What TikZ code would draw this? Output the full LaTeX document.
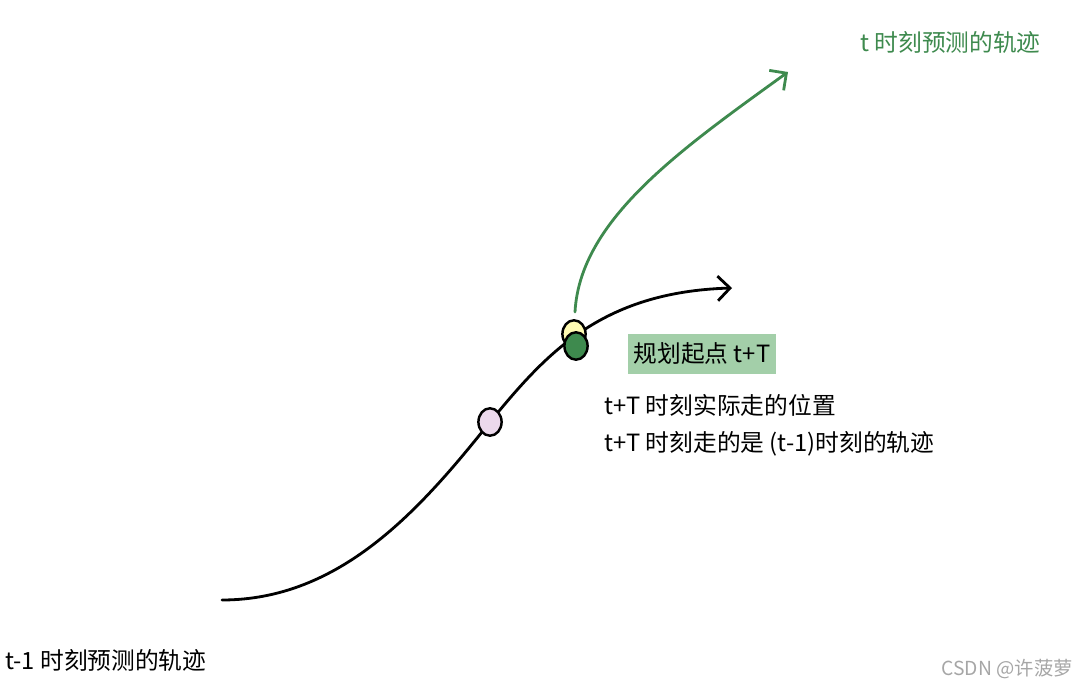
\documentclass[tikz,border=0pt]{standalone}
\usepackage{fontspec}
\setmainfont{Noto Sans CJK SC}
\usetikzlibrary{arrows.meta}
\definecolor{gr}{HTML}{3E8A4E}
\definecolor{hl}{HTML}{A3CFA9}
\tikzset{curve/.style={line width=1.6pt,-{Straight Barb[length=7pt,width=14pt]},line cap=round},
 dot/.style={draw,line width=1.4pt,ellipse,minimum width=22pt*0.6,minimum height=26pt*0.6,inner sep=0pt},
 txt/.style={font=\fontsize{13.5pt}{16pt}\selectfont,inner sep=0pt}}
\usetikzlibrary{shapes.geometric}
\begin{document}
\begin{tikzpicture}[x=0.02cm,y=-0.02cm]
\useasboundingbox (0,0) rectangle (1078,688);
\coordinate (s) at (222,600);
\coordinate (e) at (732,288);
\coordinate (g0) at (575,312);
\coordinate (g1) at (788,72);
\draw[curve] (s) .. controls (340,600) and (420,510) .. (490,422) .. controls (545,355) and (600,292) .. (e);
\draw[curve,gr] (g0) .. controls (580,220) and (680,150) .. (g1);
\node[dot,fill=violet!15] (p) at (490,422) {};
\node[dot,fill=yellow!30] (y) at (574,334) {};
\node[dot,fill=gr] (q) at (576,346) {};
\node[txt,fill=hl,inner xsep=3pt,inner ysep=5pt] (lab) at (702,354) {规划起点 t+T};
\node[txt,anchor=west] (a1) at (604,405) {t+T 时刻实际走的位置};
\node[txt,anchor=west] (a2) at (604,444) {t+T 时刻走的是 (t-1)时刻的轨迹};
\node[txt,anchor=west,text=gr] (tg) at (860,42) {t 时刻预测的轨迹};
\node[txt,anchor=west] (tb) at (5,660) {t-1 时刻预测的轨迹};
\node[anchor=east,text=gray!70,font=\fontsize{11pt}{13pt}\selectfont,inner sep=0pt] (c) at (1073,669) {CSDN @许菠萝};
\end{tikzpicture}
\end{document}
